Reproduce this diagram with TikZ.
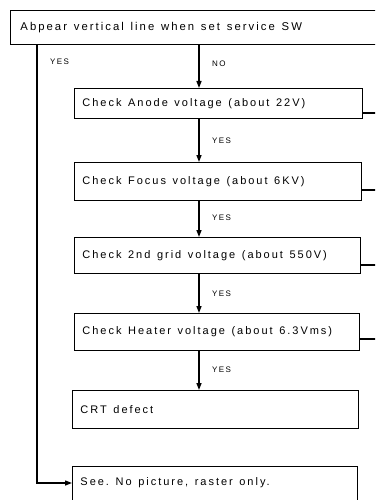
\documentclass[tikz,border=0pt]{standalone}
\usepackage{fontspec}
\setmainfont{Liberation Sans}[LetterSpace=18]
\usetikzlibrary{arrows.meta}
\newcommand\widesp{\spaceskip=0.6em plus 0.1em\relax\xspaceskip=0.6em\relax}
\begin{document}
\begin{tikzpicture}[x=1pt,y=-1pt,
  box/.style={draw, line width=0.9pt, anchor=north west, inner xsep=7pt, align=left, font=\fontsize{11}{12}\selectfont, execute at begin node=\widesp},
  lab/.style={anchor=west, inner sep=0pt, font=\fontsize{8}{9}\selectfont},
  conn/.style={line width=1.3pt},
  arr/.style={conn, -{Triangle[length=7pt,width=5pt]}}]
\useasboundingbox (0,0) rectangle (375,500);
\clip (0,0) rectangle (375,500);
\node[box, minimum width=380pt, minimum height=34pt, text width=360pt, inner xsep=9pt, font=\fontsize{11.3}{12}\selectfont] (top) at (10,10) {Abpear vertical line when set service SW};
\node[box, minimum width=288pt, minimum height=30pt, text width=272pt] (b1) at (74,88) {Check Anode voltage (about 22V)};
\node[box, minimum width=287pt, minimum height=38pt, text width=271pt] (b2) at (74,162) {Check Focus voltage (about 6KV)};
\node[box, minimum width=286pt, minimum height=36pt, text width=270pt] (b3) at (74,237) {Check 2nd grid voltage (about 550V)};
\node[box, minimum width=285pt, minimum height=37pt, text width=269pt] (b4) at (74,313) {Check Heater voltage (about 6.3Vms)};
\node[box, minimum width=286pt, minimum height=38pt, text width=270pt] (b5) at (72,390) {CRT defect};
\node[box, minimum width=285pt, minimum height=34pt, text width=269pt, anchor=west] (b6) at (72,483) {See. No picture, raster only.};
\coordinate (turn) at (37,483);
\coordinate (r1) at (380,113);
\coordinate (r2) at (380,190);
\coordinate (r3) at (380,265);
\coordinate (r4) at (380,339);
\draw[arr] (top.south -| 199,0) -- (b1.north -| 199,0);
\draw[arr] (b1.south -| 199,0) -- (b2.north -| 199,0);
\draw[arr] (b2.south -| 199,0) -- (b3.north -| 199,0);
\draw[arr] (b3.south -| 199,0) -- (b4.north -| 199,0);
\draw[arr] (b4.south -| 199,0) -- (b5.north -| 199,0);
\draw[arr] (top.south -| turn) -- (turn) -- (b6.west);
\draw[conn] (b1.east |- r1) -- (r1);
\draw[conn] (b2.east |- r2) -- (r2);
\draw[conn] (b3.east |- r3) -- (r3);
\draw[conn] (b4.east |- r4) -- (r4);
\node[lab] (ly) at (50,62) {YES};
\node[lab] (ln) at (212,64) {NO};
\node[lab] (l1) at (212,141) {YES};
\node[lab] (l2) at (212,218) {YES};
\node[lab] (l3) at (212,294) {YES};
\node[lab] (l4) at (212,370) {YES};
\end{tikzpicture}
\end{document}
